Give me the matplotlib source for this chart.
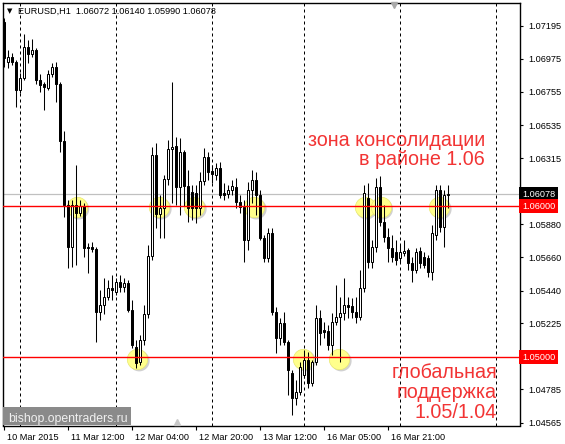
import numpy as np
import matplotlib
matplotlib.use("Agg")
import matplotlib.pyplot as plt
import matplotlib.transforms as mtransforms
from matplotlib.patches import Rectangle
from matplotlib.lines import Line2D

# ---------------- data (EURUSD H1) ----------------
opens = [1.07219, 1.06954, 1.06987, 1.06954, 1.06770, 1.06848, 1.07053, 1.07007, 1.07033, 1.06834,
         1.06808, 1.06781, 1.06874, 1.06921, 1.06808, 1.06430, 1.06007, 1.05728, 1.06007, 1.05954,
         1.06000, 1.05728, 1.05728, 1.05715, 1.05298, 1.05344, 1.05397, 1.05457, 1.05430, 1.05497,
         1.05464, 1.05490, 1.05311, 1.05066, 1.04967, 1.05113, 1.05285, 1.05669, 1.06338, 1.05947,
         1.05987, 1.06179, 1.06377, 1.06397, 1.06126, 1.06358, 1.06132, 1.06093, 1.06086, 1.05987,
         1.06166, 1.06325, 1.06232, 1.06205, 1.06252, 1.06086, 1.06079, 1.06106, 1.06126, 1.06026,
         1.05993, 1.05775, 1.06106, 1.06172, 1.06073, 1.05788, 1.05656, 1.05821, 1.05298, 1.05126,
         1.05225, 1.05099, 1.04894, 1.04728, 1.04768, 1.04881, 1.04980, 1.04828, 1.04967, 1.05258,
         1.05179, 1.05170, 1.05079, 1.05232, 1.05265, 1.05291, 1.05344, 1.05340, 1.05298, 1.05265,
         1.05457, 1.06053, 1.05629, 1.05728, 1.06126, 1.05894, 1.05795, 1.05722, 1.05695, 1.05656,
         1.05689, 1.05709, 1.05623, 1.05576, 1.05702, 1.05662, 1.05656, 1.05563, 1.05808, 1.06106,
         1.05861, 1.06072]
highs = [1.07245, 1.07033, 1.07013, 1.06967, 1.06881, 1.07139, 1.07099, 1.07106, 1.07046, 1.06874,
         1.06821, 1.06901, 1.06947, 1.06954, 1.06821, 1.06497, 1.06040, 1.06040, 1.06272, 1.06040,
         1.06020, 1.05755, 1.05762, 1.05728, 1.05444, 1.05523, 1.05510, 1.05543, 1.05523, 1.05543,
         1.05523, 1.05510, 1.05377, 1.05113, 1.05146, 1.05344, 1.05742, 1.06391, 1.06417, 1.06073,
         1.06205, 1.06437, 1.06821, 1.06457, 1.06450, 1.06371, 1.06238, 1.06139, 1.06139, 1.06225,
         1.06384, 1.06358, 1.06272, 1.06285, 1.06291, 1.06152, 1.06139, 1.06172, 1.06185, 1.06073,
         1.06040, 1.06159, 1.06238, 1.06225, 1.06106, 1.05808, 1.05854, 1.05854, 1.05331, 1.05258,
         1.05298, 1.05113, 1.04914, 1.04848, 1.04967, 1.05046, 1.05033, 1.04980, 1.05344, 1.05311,
         1.05232, 1.05212, 1.05291, 1.05477, 1.05397, 1.05523, 1.05397, 1.05391, 1.05397, 1.05576,
         1.06139, 1.06152, 1.05775, 1.06185, 1.06199, 1.06007, 1.05854, 1.05808, 1.05775, 1.05742,
         1.05775, 1.05722, 1.05662, 1.05722, 1.05728, 1.05695, 1.05675, 1.05874, 1.06139, 1.06139,
         1.06106, 1.06140]
lows = [1.06921, 1.06914, 1.06934, 1.06656, 1.06748, 1.06834, 1.06947, 1.06987, 1.06808, 1.06755,
        1.06636, 1.06768, 1.06854, 1.06689, 1.06358, 1.05927, 1.05589, 1.05596, 1.05609, 1.05934,
        1.05662, 1.05556, 1.05695, 1.05099, 1.05245, 1.05285, 1.05377, 1.05377, 1.05411, 1.05430,
        1.05430, 1.05298, 1.05060, 1.04927, 1.04947, 1.05079, 1.05258, 1.05642, 1.05854, 1.05788,
        1.05788, 1.06139, 1.06020, 1.06007, 1.05940, 1.06000, 1.05894, 1.05907, 1.05887, 1.05940,
        1.06139, 1.06172, 1.06152, 1.06172, 1.06053, 1.06040, 1.06053, 1.06073, 1.05987, 1.05954,
        1.05629, 1.05709, 1.06020, 1.05940, 1.05775, 1.05629, 1.05629, 1.05278, 1.05026, 1.05079,
        1.05079, 1.04748, 1.04616, 1.04682, 1.04748, 1.04861, 1.04795, 1.04808, 1.04947, 1.05079,
        1.05126, 1.05046, 1.05013, 1.05212, 1.04967, 1.05245, 1.05258, 1.05258, 1.05225, 1.05245,
        1.05430, 1.05589, 1.05589, 1.05695, 1.05868, 1.05762, 1.05629, 1.05629, 1.05609, 1.05629,
        1.05669, 1.05576, 1.05497, 1.05556, 1.05589, 1.05589, 1.05530, 1.05510, 1.05775, 1.05828,
        1.05728, 1.05990]
closes = [1.06980, 1.06987, 1.06954, 1.06768, 1.06848, 1.07053, 1.07007, 1.07033, 1.06834, 1.06801,
          1.06788, 1.06874, 1.06921, 1.06808, 1.06430, 1.06007, 1.05728, 1.06007, 1.05954, 1.06000,
          1.05722, 1.05722, 1.05715, 1.05298, 1.05344, 1.05397, 1.05457, 1.05444, 1.05497, 1.05464,
          1.05490, 1.05311, 1.05079, 1.04960, 1.05113, 1.05285, 1.05669, 1.06338, 1.05947, 1.05987,
          1.06179, 1.06377, 1.06391, 1.06126, 1.06358, 1.06132, 1.05987, 1.05987, 1.05987, 1.06166,
          1.06325, 1.06225, 1.06212, 1.06252, 1.06073, 1.06073, 1.06106, 1.06132, 1.06026, 1.05993,
          1.05775, 1.06106, 1.06172, 1.06073, 1.05788, 1.05656, 1.05821, 1.05298, 1.05126, 1.05225,
          1.05099, 1.04914, 1.04728, 1.04768, 1.04934, 1.04980, 1.04828, 1.04967, 1.05258, 1.05159,
          1.05166, 1.05079, 1.05232, 1.05265, 1.05291, 1.05344, 1.05331, 1.05298, 1.05265, 1.05457,
          1.06086, 1.05629, 1.05728, 1.06126, 1.05894, 1.05795, 1.05722, 1.05662, 1.05642, 1.05695,
          1.05702, 1.05623, 1.05576, 1.05695, 1.05623, 1.05609, 1.05563, 1.05821, 1.06106, 1.05861,
          1.06070, 1.06078]

time_tick_bars = [0, 16, 32, 48, 64, 80, 96]
time_tick_labels = ["10 Mar 2015", "11 Mar 12:00", "12 Mar 04:00", "12 Mar 20:00",
                    "13 Mar 12:00", "16 Mar 05:00", "16 Mar 21:00"]
day_start_bars = [4, 28, 52, 75, 99, 123]
price_ticks = [1.07195, 1.06975, 1.06755, 1.06535, 1.06315, 1.06095, 1.05880,
               1.05660, 1.05440, 1.05225, 1.05000, 1.04785, 1.04565]
level_consolidation = 1.06000
level_support = 1.05000
last_price = 1.06078
touch_bars = [18.25, 38.85, 47.6, 62.6, 90.2, 94.2, 108.85, 33.35, 74.9, 83.85]
touch_prices = [1.05993, 1.05993, 1.05993, 1.05993, 1.05993, 1.05993, 1.05993,
                1.04987, 1.04987, 1.04987]
header = "EURUSD,H1  1.06072 1.06140 1.05990 1.06078"

# ---------------- figure ----------------
W, H = 565, 444
fig = plt.figure(figsize=(W / 100, H / 100), dpi=100)
fig.patch.set_facecolor("white")
L, R, T, B = 2.5, 520, 3, 425.5
ax = fig.add_axes([L / W, (H - B) / H, (R - L) / W, (B - T) / H])
ax.set_facecolor("white")

n = len(opens)
x = np.arange(n)
o = np.array(opens); hi = np.array(highs); lo = np.array(lows); c = np.array(closes)

px = 4.0  # pixels per bar
ax.set_xlim((L - 3.8) / px, (R - 3.8) / px)
ax.set_ylim(1.045464, 1.073444)

# day separators
ax.vlines(day_start_bars, 0, 1, transform=ax.get_xaxis_transform(), colors="black",
          linewidth=0.72, linestyles=(0, (3, 3)), zorder=1)

# last price line
ax.axhline(last_price, color="#C0C0C0", linewidth=0.9, zorder=1.5)

# yellow touch circles with soft shadow
shadow_tr = mtransforms.offset_copy(ax.transData, fig=fig, x=2, y=-2, units="dots")
ax.scatter(touch_bars, touch_prices, s=225, color="#9A9A9A", alpha=0.45,
           edgecolors="none", transform=shadow_tr, zorder=2)
ax.scatter(touch_bars, touch_prices, s=215, color="#FFFF8C", edgecolors="#E8E870",
           linewidths=0.5, zorder=2.2)

# candles
ax.vlines(x, lo, hi, colors="black", linewidth=0.75, zorder=3)
bull = c >= o
body_bottom = np.minimum(o, c)
body_h = np.maximum(np.abs(c - o), 1e-6)
ax.bar(x, body_h, bottom=body_bottom, width=0.5,
       color=np.where(bull, "white", "black"), edgecolor="black", linewidth=0.72, zorder=4)

# horizontal levels
ax.axhline(level_consolidation, color="#FF0000", linewidth=1.0, zorder=5)
ax.axhline(level_support, color="#FF0000", linewidth=1.0, zorder=5)

# spines
for s in ax.spines.values():
    s.set_color("black")
    s.set_linewidth(1.0)

font = "Liberation Sans"
tick_fs = 6.6

# x ticks
ax.set_xticks(time_tick_bars)
ax.set_xticklabels(time_tick_labels, fontsize=tick_fs, family=font)
ax.tick_params(axis="x", direction="out", length=3, width=0.8, pad=2.5, colors="black")
off = mtransforms.ScaledTranslation(3 / 100, 0, fig.dpi_scale_trans)
for lab in ax.get_xticklabels():
    lab.set_horizontalalignment("left")
    lab.set_transform(lab.get_transform() + off)

# y ticks on right (labels hidden where a price box sits on top)
boxed = [last_price, level_consolidation, level_support]
ax.yaxis.tick_right()
ax.set_yticks(price_ticks)
ylabels = []
for v in price_ticks:
    hidden = any(abs(v - b) < 0.0002 for b in boxed)
    ylabels.append("" if hidden else f"{v:.5f}")
ax.set_yticklabels(ylabels, fontsize=tick_fs, family=font)
ax.tick_params(axis="y", direction="out", length=2.5, width=0.8, pad=3.5, colors="black")

# price boxes on the right scale
ytr = ax.get_yaxis_transform()
for val, bg in [(last_price, "black"), (level_consolidation, "#FF0000"), (level_support, "#FF0000")]:
    ax.text(1.004, val, f"{val:.5f}", transform=ytr, ha="left", va="center",
            fontsize=tick_fs, family=font, color="white", clip_on=False, zorder=10,
            bbox=dict(boxstyle="square,pad=0.3", facecolor=bg, edgecolor="none"))

# header
fig.text(7 / W, 1 - 11.5 / H, "\u25BC", fontsize=5, color="black", family="DejaVu Sans",
         ha="left", va="center")
fig.text(18 / W, 1 - 11 / H, header, fontsize=tick_fs, family=font, color="black",
         ha="left", va="center")

# chart-shift markers
fig.add_artist(Line2D([394 / W], [1 - 5 / H], marker="v", color="#A8A8A8", markersize=5,
                      transform=fig.transFigure, linestyle="none"))
fig.add_artist(Line2D([177 / W], [1 - 422 / H], marker="^", color="#C8C8C8", markersize=5,
                      transform=fig.transFigure, linestyle="none"))

# annotations
red = "#F23434"
afs = 14.2
fig.text(485 / W, 1 - 146 / H, "зона консолидации", fontsize=afs, family=font, color=red,
         ha="right", va="baseline")
fig.text(485 / W, 1 - 165 / H, "в районе 1.06", fontsize=afs, family=font, color=red,
         ha="right", va="baseline")
fig.text(497 / W, 1 - 378 / H, "глобальная", fontsize=afs, family=font, color=red,
         ha="right", va="baseline")
fig.text(497 / W, 1 - 398 / H, "поддержка", fontsize=afs, family=font, color=red,
         ha="right", va="baseline")
fig.text(497 / W, 1 - 418 / H, "1.05/1.04", fontsize=afs, family=font, color=red,
         ha="right", va="baseline")

# watermark
fig.add_artist(Rectangle((3 / W, (H - 425) / H), 128 / W, 18 / H, transform=fig.transFigure,
                         facecolor="#8A8A8A", edgecolor="none", zorder=20))
fig.text(8 / W, 1 - 421.5 / H, "bishop.opentraders.ru", fontsize=8.8, family=font,
         color="#F0F0F0", ha="left", va="baseline", zorder=21)

fig.savefig("out.png", dpi=100, facecolor="white")
